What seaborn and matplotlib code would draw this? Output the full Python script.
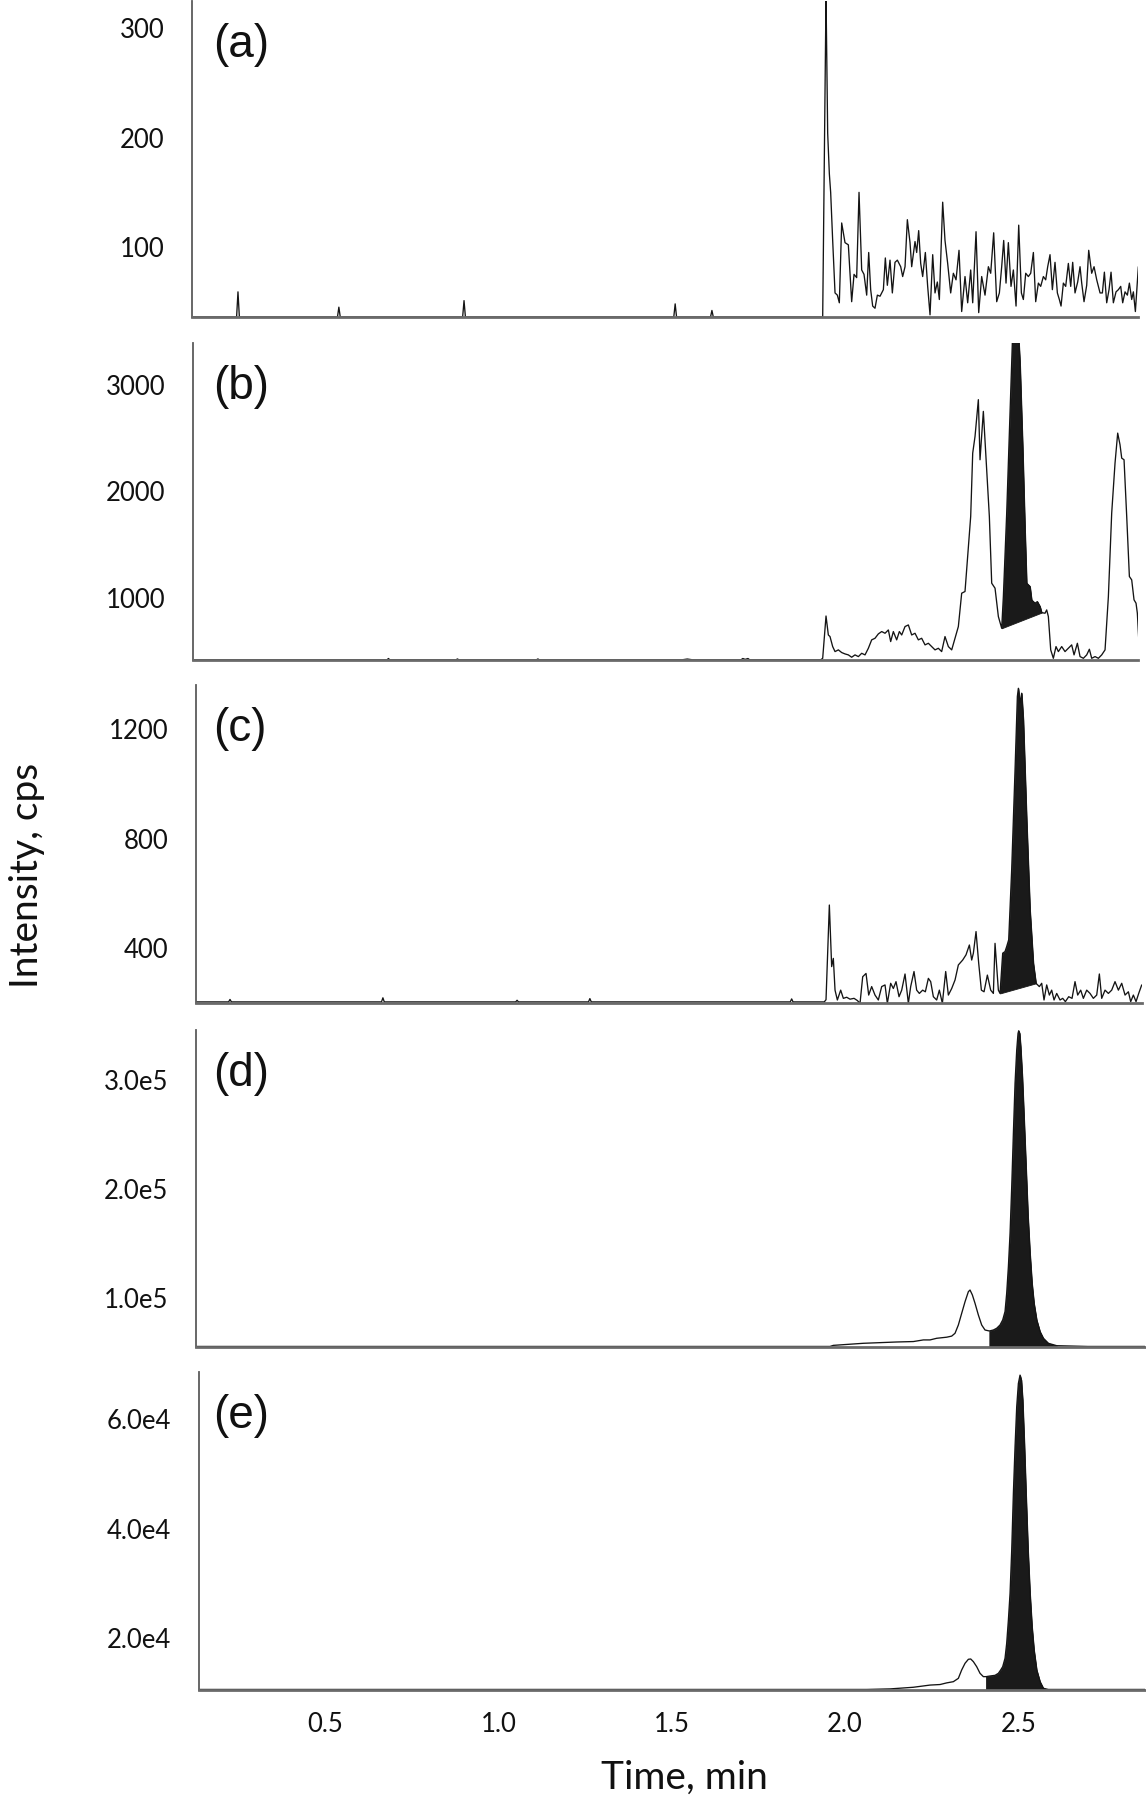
import numpy as np
import pandas as pd
import matplotlib
matplotlib.use("Agg")
import matplotlib.pyplot as plt
import seaborn as sns

# ------------------------------------------------------------------ data
X_TICKS = [0.5, 1.0, 1.5, 2.0, 2.5]
X_TICK_LABELS = ["0.5", "1.0", "1.5", "2.0", "2.5"]
PANEL_LABELS = ["(a)", "(b)", "(c)", "(d)", "(e)"]
X_LABEL = "Time, min"
Y_LABEL = "Intensity, cps"

A_YTICKS = [100, 200, 300]
A_YLABELS = ["100", "200", "300"]
B_YTICKS = [1000, 2000, 3000]
B_YLABELS = ["1000", "2000", "3000"]
C_YTICKS = [400, 800, 1200]
C_YLABELS = ["400", "800", "1200"]
D_YTICKS = [1.0e5, 2.0e5, 3.0e5]
D_YLABELS = ["1.0e5", "2.0e5", "3.0e5"]
E_YTICKS = [2.0e4, 4.0e4, 6.0e4]
E_YLABELS = ["2.0e4", "4.0e4", "6.0e4"]

A_YLIM = (36, 325)
B_YLIM = (418, 3394)
C_YLIM = (199, 1361)
D_YLIM = (0.55e5, 3.46e5)
E_YLIM = (1.05e4, 6.86e4)

# (time [min], intensity [cps])
A_TRACE = [
    (0.116, 36), (0.245, 36), (0.249, 59), (0.253, 36), (0.536, 36), (0.540, 45), (0.544, 36),
    (0.897, 36), (0.901, 51), (0.905, 36), (1.506, 36), (1.510, 48), (1.514, 36),
    (1.612, 36), (1.616, 42), (1.620, 36), (1.9355, 36),
    (1.9451, 330), (1.9499, 204), (1.9547, 167), (1.9585, 150), (1.9643, 106), (1.9711, 58),
    (1.9778, 56), (1.9835, 49), (1.9903, 122), (1.9999, 104), (2.0095, 102), (2.0191, 50),
    (2.0259, 75), (2.0335, 72), (2.0403, 150), (2.0480, 79), (2.0547, 75), (2.0624, 56),
    (2.0682, 95), (2.0739, 61), (2.0797, 46), (2.0864, 44), (2.0932, 56), (2.1009, 55),
    (2.1105, 61), (2.1162, 90), (2.1220, 65), (2.1297, 88), (2.1364, 58), (2.1441, 86),
    (2.1509, 88), (2.1605, 82), (2.1662, 73), (2.1730, 82), (2.1797, 125), (2.1874, 104),
    (2.1922, 82), (2.2018, 105), (2.2066, 95), (2.2124, 115), (2.2182, 85), (2.2239, 73),
    (2.2316, 95), (2.2383, 64), (2.2451, 38), (2.2528, 93), (2.2595, 58), (2.2662, 68),
    (2.2720, 52), (2.2816, 141), (2.2883, 106), (2.2960, 85), (2.3047, 58), (2.3124, 76),
    (2.3201, 70), (2.3287, 97), (2.3364, 41), (2.3460, 73), (2.3537, 49), (2.3624, 79),
    (2.3682, 49), (2.3778, 114), (2.3855, 40), (2.3941, 73), (2.4037, 56), (2.4134, 82),
    (2.4201, 76), (2.4287, 113), (2.4374, 50), (2.4451, 58), (2.4518, 82), (2.4576, 106),
    (2.4643, 67), (2.4710, 104), (2.4787, 64), (2.4855, 79), (2.4932, 46), (2.5009, 120),
    (2.5086, 58), (2.5143, 52), (2.5211, 76), (2.5287, 73), (2.5355, 76), (2.5432, 95),
    (2.5499, 50), (2.5576, 67), (2.5643, 64), (2.5720, 73), (2.5787, 70), (2.5845, 82),
    (2.5912, 93), (2.5980, 61), (2.6056, 86), (2.6124, 58), (2.6181, 52), (2.6230, 46),
    (2.6297, 67), (2.6364, 64), (2.6441, 85), (2.6509, 64), (2.6566, 86), (2.6633, 58),
    (2.6710, 68), (2.6778, 82), (2.6826, 67), (2.6893, 50), (2.6970, 65), (2.7028, 97),
    (2.7114, 76), (2.7182, 82), (2.7259, 70), (2.7355, 58), (2.7422, 58), (2.7480, 77),
    (2.7547, 49), (2.7614, 61), (2.7672, 77), (2.7739, 49), (2.7816, 59), (2.7884, 61),
    (2.7951, 64), (2.8008, 49), (2.8076, 59), (2.8143, 56), (2.8201, 67), (2.8268, 52),
    (2.8316, 59), (2.8374, 41), (2.8460, 82),
]

B_TRACE = [
    (0.119, 420), (0.679, 420), (0.683, 432), (0.687, 420), (0.878, 420), (0.882, 428),
    (0.886, 420), (1.110, 420), (1.114, 428), (1.118, 420), (1.530, 420), (1.545, 427),
    (1.560, 420), (1.700, 420), (1.705, 432), (1.712, 424), (1.720, 432), (1.725, 420),
    (1.9300, 420), (1.9355, 434), (1.9451, 831), (1.9518, 653), (1.9566, 638), (1.9643, 544),
    (1.9711, 497), (1.9807, 513), (1.9903, 488), (1.9999, 475), (2.0095, 466), (2.0191, 444),
    (2.0287, 466), (2.0384, 450), (2.0480, 481), (2.0576, 466), (2.0672, 528), (2.0768, 607),
    (2.0864, 622), (2.0960, 663), (2.1057, 685), (2.1153, 669), (2.1249, 700), (2.1316, 591),
    (2.1393, 685), (2.1489, 607), (2.1566, 685), (2.1634, 653), (2.1730, 732), (2.1826, 747),
    (2.1922, 653), (2.2018, 669), (2.2114, 607), (2.2210, 622), (2.2307, 560), (2.2403, 575),
    (2.2499, 544), (2.2595, 513), (2.2691, 528), (2.2787, 497), (2.2883, 638), (2.2980, 544),
    (2.3076, 513), (2.3172, 622), (2.3268, 732), (2.3364, 1045), (2.3460, 1061), (2.3557, 1484),
    (2.3624, 1766), (2.3682, 2360), (2.3749, 2517), (2.3845, 2862), (2.3893, 2298),
    (2.3989, 2752), (2.4086, 2204), (2.4162, 1766), (2.4230, 1139), (2.4326, 1092),
    (2.4422, 826), (2.4518, 716), (2.4566, 1012), (2.4662, 1795), (2.4759, 2734),
    (2.4836, 3500), (2.4999, 3500), (2.5047, 3203), (2.5124, 2420), (2.5191, 1639),
    (2.5239, 1139), (2.5335, 1108), (2.5383, 981), (2.5480, 951), (2.5547, 966),
    (2.5624, 920), (2.5672, 863), (2.5768, 857), (2.5816, 888), (2.5864, 826), (2.5932, 513),
    (2.6008, 434), (2.6085, 544), (2.6153, 497), (2.6249, 544), (2.6345, 497), (2.6441, 528),
    (2.6537, 560), (2.6605, 466), (2.6701, 575), (2.6778, 450), (2.6874, 434), (2.6970, 466),
    (2.7047, 519), (2.7114, 434), (2.7211, 450), (2.7307, 434), (2.7403, 466), (2.7499, 513),
    (2.7595, 1012), (2.7691, 1797), (2.7787, 2266), (2.7864, 2548), (2.7931, 2439),
    (2.7980, 2313), (2.8047, 2298), (2.8124, 1766), (2.8201, 1202), (2.8268, 1170),
    (2.8335, 983), (2.8393, 951), (2.8431, 857), (2.8470, 622),
]
B_FILL = [(2.4518, 716), (2.5672, 863)]   # integration baseline of the shaded peak

C_TRACE = [
    (0.128, 203), (0.222, 203), (0.226, 212), (0.230, 203), (0.663, 203), (0.667, 218),
    (0.671, 203), (1.050, 203), (1.054, 209), (1.058, 203), (1.260, 203), (1.264, 215),
    (1.268, 203), (1.842, 203), (1.846, 214), (1.850, 203), (1.9400, 203),
    (1.9451, 211), (1.9547, 557), (1.9614, 332), (1.9662, 362), (1.9711, 246), (1.9778, 210),
    (1.9874, 246), (1.9951, 216), (2.0047, 220), (2.0143, 213), (2.0259, 216), (2.0355, 208),
    (2.0432, 198), (2.0509, 295), (2.0605, 307), (2.0682, 228), (2.0768, 259), (2.0864, 228),
    (2.0960, 210), (2.1057, 259), (2.1153, 265), (2.1220, 198), (2.1316, 271), (2.1393, 252),
    (2.1470, 277), (2.1557, 222), (2.1634, 246), (2.1730, 305), (2.1826, 198), (2.1893, 259),
    (2.1989, 314), (2.2066, 246), (2.2143, 234), (2.2239, 246), (2.2316, 240), (2.2403, 289),
    (2.2470, 277), (2.2547, 222), (2.2643, 210), (2.2720, 246), (2.2807, 198), (2.2903, 314),
    (2.2980, 228), (2.3076, 252), (2.3172, 283), (2.3268, 338), (2.3393, 356), (2.3489, 375),
    (2.3586, 411), (2.3653, 356), (2.3701, 381), (2.3778, 460), (2.3855, 344), (2.3932, 246),
    (2.4009, 240), (2.4105, 301), (2.4201, 246), (2.4278, 234), (2.4326, 417), (2.4422, 246),
    (2.4470, 234), (2.4547, 381), (2.4614, 387), (2.4662, 405), (2.4720, 430), (2.4806, 686),
    (2.4903, 1051), (2.4970, 1319), (2.4999, 1349), (2.5047, 1295), (2.5095, 1331),
    (2.5143, 1234), (2.5239, 868), (2.5335, 540), (2.5432, 344), (2.5508, 271), (2.5604, 259),
    (2.5672, 271), (2.5739, 210), (2.5816, 265), (2.5893, 228), (2.5960, 246), (2.6028, 210),
    (2.6105, 234), (2.6201, 210), (2.6278, 216), (2.6355, 204), (2.6451, 222), (2.6547, 216),
    (2.6633, 277), (2.6710, 228), (2.6797, 246), (2.6874, 216), (2.6970, 246), (2.7066, 234),
    (2.7162, 216), (2.7259, 228), (2.7335, 305), (2.7403, 216), (2.7499, 246), (2.7595, 234),
    (2.7691, 246), (2.7787, 277), (2.7884, 246), (2.7980, 271), (2.8076, 228), (2.8172, 240),
    (2.8239, 204), (2.8316, 228), (2.8393, 204), (2.8470, 234), (2.8557, 265),
]
C_FILL = [(2.4470, 234), (2.5508, 271)]

D_TRACE = [
    (0.128, 0.555e5), (1.9566, 0.555e5), (1.9662, 0.565e5), (2.0528, 0.584e5), (2.1009, 0.590e5),
    (2.1489, 0.596e5), (2.1970, 0.600e5), (2.2259, 0.615e5), (2.2451, 0.615e5), (2.2643, 0.630e5),
    (2.2932, 0.640e5), (2.3076, 0.650e5), (2.3172, 0.676e5), (2.3268, 0.752e5), (2.3364, 0.859e5),
    (2.3461, 0.966e5), (2.3557, 1.058e5), (2.3605, 1.073e5), (2.3672, 1.028e5), (2.3749, 0.951e5),
    (2.3845, 0.844e5), (2.3941, 0.752e5), (2.4037, 0.706e5), (2.4162, 0.697e5), (2.4278, 0.706e5),
    (2.4374, 0.722e5), (2.4470, 0.752e5), (2.4547, 0.798e5), (2.4614, 0.875e5), (2.4662, 1.043e5),
    (2.4711, 1.287e5), (2.4759, 1.593e5), (2.4807, 2.021e5), (2.4855, 2.511e5), (2.4903, 2.970e5),
    (2.4951, 3.275e5), (2.4989, 3.428e5), (2.5009, 3.453e5), (2.5037, 3.428e5), (2.5066, 3.306e5),
    (2.5114, 3.030e5), (2.5162, 2.663e5), (2.5220, 2.205e5), (2.5278, 1.746e5), (2.5335, 1.410e5),
    (2.5393, 1.135e5), (2.5451, 0.951e5), (2.5528, 0.798e5), (2.5624, 0.691e5), (2.5720, 0.630e5),
    (2.5864, 0.584e5), (2.6104, 0.562e5), (2.7000, 0.555e5), (2.8650, 0.555e5),
]
D_FILL = [(2.4162, None), (2.6104, None)]

E_TRACE = [
    (0.137, 1.06e4), (1.9566, 1.06e4), (2.0624, 1.06e4), (2.1297, 1.07e4), (2.1970, 1.10e4),
    (2.2451, 1.14e4), (2.2740, 1.15e4), (2.2932, 1.18e4), (2.3124, 1.202e4), (2.3268, 1.263e4),
    (2.3364, 1.416e4), (2.3461, 1.538e4), (2.3557, 1.611e4), (2.3624, 1.617e4), (2.3701, 1.568e4),
    (2.3797, 1.476e4), (2.3893, 1.355e4), (2.3989, 1.294e4), (2.4066, 1.294e4), (2.4182, 1.306e4),
    (2.4326, 1.318e4), (2.4422, 1.355e4), (2.4489, 1.416e4), (2.4547, 1.476e4), (2.4614, 1.629e4),
    (2.4662, 1.903e4), (2.4711, 2.329e4), (2.4759, 2.816e4), (2.4807, 3.607e4), (2.4855, 4.642e4),
    (2.4903, 5.494e4), (2.4951, 6.224e4), (2.4999, 6.650e4), (2.5047, 6.803e4), (2.5086, 6.711e4),
    (2.5124, 6.346e4), (2.5172, 5.555e4), (2.5220, 4.642e4), (2.5278, 3.607e4), (2.5335, 2.816e4),
    (2.5393, 2.207e4), (2.5451, 1.781e4), (2.5528, 1.416e4), (2.5624, 1.202e4), (2.5720, 1.081e4),
    (2.5864, 1.06e4), (2.6104, 1.06e4), (2.8650, 1.06e4),
]
E_FILL = [(2.4066, None), (2.6104, None)]

# ------------------------------------------------------------------ style
W, H, DPI = 1146, 1800, 100
sns.set_theme(style="white")
plt.rcParams["font.family"] = ["Lato", "DejaVu Sans"]
LINE_COLOR = "#141414"
FILL_COLOR = "#1a1a1a"

# panel boxes in pixels: left, right, top, bottom
BOXES = [(192, 1138, 1, 317), (193, 1138, 343, 660), (196, 1142, 685, 1003),
         (196, 1145, 1030, 1347), (199, 1145, 1372, 1690)]


def t_of_px(px):
    return 0.5 + (px - 325.0) / 346.7


panels = [
    (A_TRACE, A_YTICKS, A_YLABELS, A_YLIM, None),
    (B_TRACE, B_YTICKS, B_YLABELS, B_YLIM, B_FILL),
    (C_TRACE, C_YTICKS, C_YLABELS, C_YLIM, C_FILL),
    (D_TRACE, D_YTICKS, D_YLABELS, D_YLIM, D_FILL),
    (E_TRACE, E_YTICKS, E_YLABELS, E_YLIM, E_FILL),
]

fig = plt.figure(figsize=(W / DPI, H / DPI), dpi=DPI)
fig.patch.set_facecolor("white")

for i, (trace, yt, yl, ylim, fill) in enumerate(panels):
    l, r, t, b = BOXES[i]
    ax = fig.add_axes([l / W, 1 - b / H, (r - l) / W, (b - t) / H])
    df = pd.DataFrame(trace, columns=["time", "intensity"])
    sns.lineplot(data=df, x="time", y="intensity", ax=ax, color=LINE_COLOR,
                 linewidth=0.95, estimator=None, sort=False)
    if fill is not None:
        (t0, v0), (t1, v1) = fill
        tt = df["time"].to_numpy()
        yy = df["intensity"].to_numpy()
        m = (tt >= t0 - 1e-9) & (tt <= t1 + 1e-9)
        if v0 is None:
            base = np.full(m.sum(), ylim[0] - (ylim[1] - ylim[0]) * 0.01)
        else:
            base = np.interp(tt[m], [t0, t1], [v0, v1])
        ax.fill_between(tt[m], yy[m], base, color=FILL_COLOR, linewidth=0.6,
                        edgecolor=FILL_COLOR)
    ax.set_xlim(t_of_px(l), t_of_px(r))
    ax.set_ylim(*ylim)
    ax.set_xlabel("")
    ax.set_ylabel("")
    ax.set_yticks(yt)
    ax.set_yticklabels(yl)
    if i == 4:
        ax.set_xticks(X_TICKS)
        ax.set_xticklabels(X_TICK_LABELS)
    else:
        ax.set_xticks([])
    ax.tick_params(axis="y", length=0, pad=20, labelsize=18.5, labelcolor="#111111")
    ax.tick_params(axis="x", length=0, pad=16, labelsize=18.5, labelcolor="#111111")
    sns.despine(ax=ax)
    ax.spines["left"].set_color("#5c5c5c")
    ax.spines["left"].set_linewidth(1.3)
    ax.spines["bottom"].set_color("#6a6a6a")
    ax.spines["bottom"].set_linewidth(2.0)
    ax.set_facecolor("white")
    ax.grid(False)
    fig.text(213 / W, 1 - (t + 22) / H, PANEL_LABELS[i], ha="left", va="top",
             fontsize=33, family=["Liberation Sans", "DejaVu Sans"], color="#111111")

fig.text(684 / W, 1 - 1778 / H, X_LABEL, ha="center", va="center", fontsize=28,
         color="#111111")
fig.text(27 / W, 1 - 875 / H, Y_LABEL, ha="center", va="center", rotation=90,
         fontsize=28, color="#111111")

fig.savefig("out.png", dpi=DPI, facecolor="white")
